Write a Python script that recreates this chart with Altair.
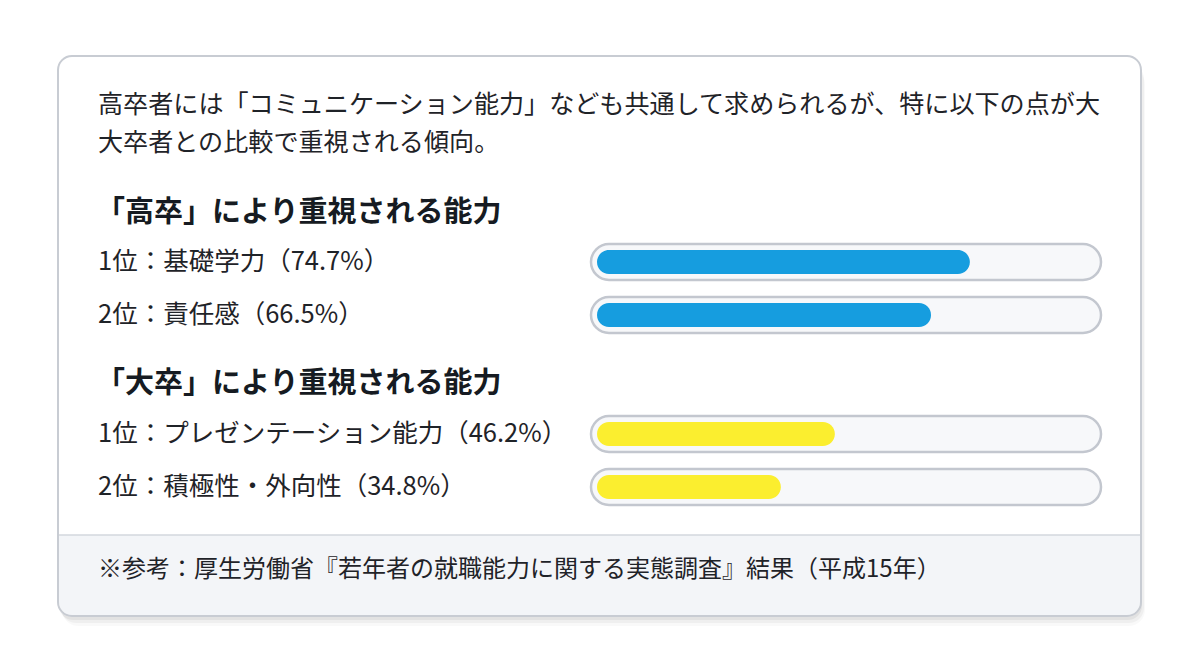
import altair as alt
import pandas as pd

# ---- content ----
intro_lines = [
    "高卒者には「コミュニケーション能力」なども共通して求められるが、特に以下の点が大",
    "大卒者との比較で重視される傾向。",
]
section_titles = ["「高卒」により重視される能力", "「大卒」により重視される能力"]
ranks = ["1位", "2位"]
hs_items = ["基礎学力", "責任感"]
hs_pct = [74.7, 66.5]
uni_items = ["プレゼンテーション能力", "積極性・外向性"]
uni_pct = [46.2, 34.8]
source_note = "※参考：厚生労働省『若年者の就職能力に関する実態調査』結果（平成15年）"

FONT = "Noto Sans CJK JP"
TEXT = "#1f2328"
BLUE = "#169ddf"
YELLOW = "#fbee2f"

one = pd.DataFrame({"k": [0]})


def box(x, x2, y, y2, **kw):
    return alt.Chart(one).mark_rect(**kw).encode(
        x=alt.value(x), x2=alt.value(x2), y=alt.value(y), y2=alt.value(y2)
    )


def label(txt, x, y, size, weight="normal", color=TEXT):
    return alt.Chart(one).mark_text(
        text=txt, font=FONT, fontSize=size, fontWeight=weight, color=color,
        align="left", baseline="middle",
    ).encode(x=alt.value(x), y=alt.value(y))


xscale = alt.Scale(domain=[0, 100], range=[616, 1089.7])


def group(items, pcts, color, y0):
    df = pd.DataFrame({"rank": ranks, "item": items, "pct": pcts})
    df["label"] = [f"{r}：{i}（{p}%）" for r, i, p in zip(df["rank"], df["item"], df["pct"])]
    yenc = alt.Y(
        "label:N", sort=None, axis=None,
        scale=alt.Scale(range=[y0, y0 + 106], paddingInner=0, paddingOuter=0),
    )
    base = alt.Chart(df)
    track = base.mark_bar(
        height=36, cornerRadius=18, fill="#f7f8fa", stroke="#c3c7cf", strokeWidth=2.5
    ).encode(x=alt.value(591), x2=alt.value(1101), y=yenc)
    fill = base.mark_bar(height=24, cornerRadius=12, color=color).encode(
        x=alt.X("pct:Q", scale=xscale, axis=None, stack=None), x2=alt.value(597), y=yenc
    )
    txt = base.mark_text(
        font=FONT, fontSize=25.5, color=TEXT, align="left", baseline="middle"
    ).encode(x=alt.value(98), y=yenc, text="label:N")
    return alt.layer(track, fill, txt)


layers = [
    box(62, 1145, 68, 626, fill="#000000", opacity=0.025, cornerRadius=16),
    box(61, 1144, 64, 623, fill="#000000", opacity=0.04, cornerRadius=15),
    box(59, 1142, 59, 620, fill="#000000", opacity=0.05, cornerRadius=14),
    box(58, 1141, 56, 616, fill="#ffffff", cornerRadius=14),
    box(59, 1140, 535, 615, fill="#f3f5f8", cornerRadiusBottomLeft=13, cornerRadiusBottomRight=13),
    alt.Chart(one).mark_rule(stroke="#d3d7de", strokeWidth=1.5).encode(
        x=alt.value(59), x2=alt.value(1140), y=alt.value(535)
    ),
    box(58, 1141, 56, 616, fill=None, stroke="#c8ccd3", strokeWidth=2, cornerRadius=14),
    label(intro_lines[0], 98, 105, 25.1),
    label(intro_lines[1], 98, 143, 25.1),
    label(section_titles[0], 96, 213, 29, weight="bold", color="#161b22"),
    label(section_titles[1], 96, 384, 29, weight="bold", color="#161b22"),
    label(source_note, 98, 570, 24),
    group(hs_items, hs_pct, BLUE, 235.5),
    group(uni_items, uni_pct, YELLOW, 407.5),
]

chart = (
    alt.layer(*layers)
    .resolve_scale(y="independent")
    .properties(width=1200, height=672, padding=0, autosize="none", background="#ffffff")
    .configure_view(stroke=None)
)

chart.save("out.html", embed_options={"renderer": "svg", "actions": False})
